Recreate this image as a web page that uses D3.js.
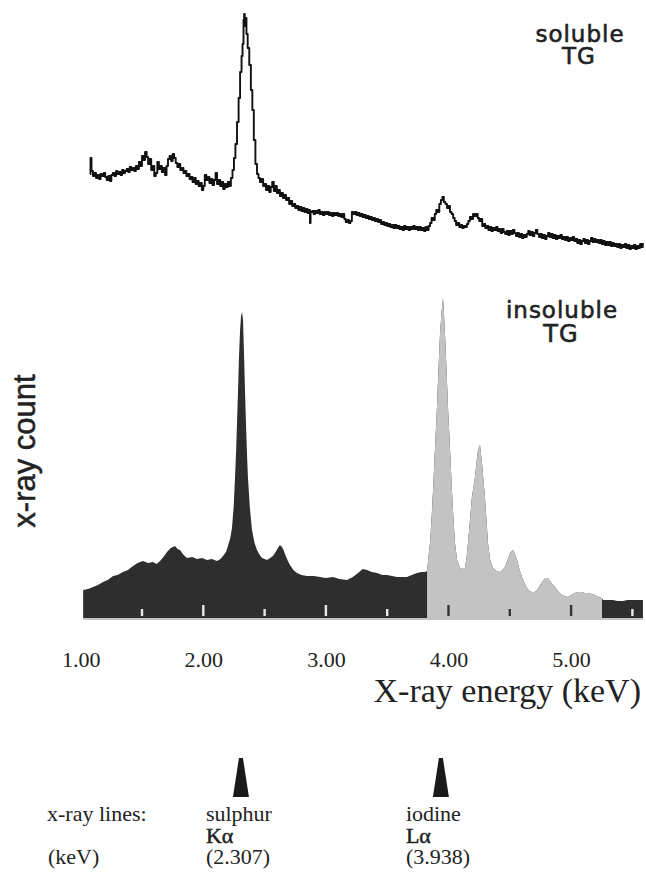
<!DOCTYPE html>
<html>
<head>
<meta charset="utf-8">
<script src="https://cdn.jsdelivr.net/npm/d3@7/dist/d3.min.js"></script>
<style>
  html, body { margin: 0; padding: 0; background: #fff; }
  svg { display: block; }
</style>
</head>
<body>
<svg id="chart" width="646" height="880"></svg>
<script>
// ---------- DATA ----------
// soluble TG spectrum: [energy keV, counts (arbitrary)]
const solubleSpectrum = [
[1.075,96],[1.080,112],[1.088,99],[1.100,94],[1.112,97],[1.125,92],[1.138,95],[1.150,91],[1.162,96],[1.175,94],
[1.188,97],[1.200,93],[1.212,90],[1.225,94],[1.238,89],[1.250,95],[1.262,97],[1.275,94],[1.288,99],[1.300,96],
[1.312,98],[1.325,95],[1.338,100],[1.350,97],[1.362,99],[1.375,101],[1.388,98],[1.400,103],[1.412,100],[1.425,102],
[1.438,99],[1.450,104],[1.462,101],[1.475,108],[1.488,104],[1.500,114],[1.512,110],[1.525,118],[1.538,113],[1.550,106],
[1.562,111],[1.575,100],[1.588,104],[1.600,94],[1.612,97],[1.625,108],[1.638,101],[1.650,104],[1.662,98],[1.675,102],
[1.688,95],[1.700,104],[1.712,111],[1.725,114],[1.738,109],[1.750,116],[1.762,112],[1.775,107],[1.788,103],[1.800,106],
[1.812,100],[1.825,102],[1.838,97],[1.850,99],[1.862,94],[1.875,96],[1.888,91],[1.900,93],[1.912,88],[1.925,92],
[1.938,86],[1.950,89],[1.962,84],[1.975,87],[1.988,80],[2.000,84],[2.012,95],[2.025,90],[2.038,93],[2.050,87],
[2.062,91],[2.075,85],[2.088,90],[2.100,97],[2.112,86],[2.125,90],[2.138,84],[2.150,88],[2.162,81],[2.175,86],
[2.188,83],[2.200,88],[2.212,84],[2.225,92],[2.238,100],[2.250,112],[2.262,126],[2.275,148],[2.288,172],[2.300,198],
[2.312,214],[2.320,226],[2.328,250],[2.333,256],[2.338,244],[2.345,252],[2.352,236],[2.362,222],[2.375,205],[2.388,180],
[2.400,160],[2.412,130],[2.425,106],[2.438,96],[2.450,92],[2.462,88],[2.475,91],[2.488,84],[2.500,86],[2.512,80],
[2.525,84],[2.538,78],[2.550,83],[2.562,88],[2.575,79],[2.588,84],[2.600,77],[2.612,80],[2.625,74],[2.638,77],
[2.650,72],[2.662,75],[2.675,70],[2.688,72],[2.700,66],[2.712,69],[2.725,64],[2.738,66],[2.750,62],[2.762,64],
[2.775,60],[2.788,63],[2.800,59],[2.812,62],[2.825,58],[2.838,61],[2.850,57],[2.862,60],[2.870,47],[2.875,58],
[2.888,59],[2.900,56],[2.912,59],[2.925,57],[2.938,60],[2.950,56],[2.962,58],[2.975,55],[2.988,58],[3.000,56],
[3.012,58],[3.025,55],[3.038,57],[3.050,54],[3.062,57],[3.075,55],[3.088,57],[3.100,54],[3.112,56],[3.125,53],
[3.138,56],[3.150,51],[3.162,48],[3.175,50],[3.188,47],[3.200,49],[3.212,58],[3.225,56],[3.238,58],[3.250,55],
[3.262,57],[3.275,54],[3.288,56],[3.300,53],[3.312,55],[3.325,52],[3.338,54],[3.350,51],[3.362,53],[3.375,50],
[3.388,52],[3.400,49],[3.412,51],[3.425,48],[3.438,50],[3.450,46],[3.462,48],[3.475,45],[3.488,47],[3.500,44],
[3.512,46],[3.525,43],[3.538,45],[3.550,42],[3.562,45],[3.575,42],[3.588,44],[3.600,41],[3.612,43],[3.625,40],
[3.638,44],[3.650,41],[3.662,43],[3.675,40],[3.688,43],[3.700,41],[3.712,44],[3.725,41],[3.738,43],[3.750,40],
[3.762,43],[3.775,40],[3.788,42],[3.800,39],[3.812,43],[3.825,40],[3.838,44],[3.850,47],[3.862,52],[3.875,50],
[3.888,56],[3.900,60],[3.912,58],[3.925,66],[3.938,70],[3.950,73],[3.962,68],[3.975,66],[3.988,62],[4.000,64],
[4.012,58],[4.025,56],[4.038,52],[4.050,49],[4.062,45],[4.075,47],[4.088,43],[4.100,45],[4.112,42],[4.125,44],
[4.138,43],[4.150,46],[4.162,49],[4.175,53],[4.188,51],[4.200,56],[4.212,54],[4.225,56],[4.238,52],[4.250,49],
[4.262,51],[4.275,44],[4.288,46],[4.300,42],[4.312,44],[4.325,40],[4.338,43],[4.350,39],[4.362,42],[4.375,40],
[4.388,43],[4.400,39],[4.412,41],[4.425,37],[4.438,41],[4.450,38],[4.462,36],[4.475,39],[4.488,35],[4.500,39],
[4.512,36],[4.525,40],[4.538,37],[4.550,34],[4.562,37],[4.575,33],[4.588,36],[4.600,32],[4.612,35],[4.625,33],
[4.638,36],[4.650,39],[4.662,35],[4.675,38],[4.688,34],[4.700,37],[4.712,40],[4.725,36],[4.738,33],[4.750,36],
[4.762,32],[4.775,35],[4.788,31],[4.800,34],[4.812,37],[4.825,33],[4.838,36],[4.850,32],[4.862,35],[4.875,31],
[4.888,34],[4.900,32],[4.912,35],[4.925,31],[4.938,33],[4.950,30],[4.962,33],[4.975,29],[4.988,32],[5.000,30],
[5.012,33],[5.025,29],[5.038,31],[5.050,27],[5.062,30],[5.075,26],[5.088,29],[5.100,31],[5.112,27],[5.125,30],
[5.138,26],[5.150,29],[5.162,32],[5.175,28],[5.188,31],[5.200,28],[5.212,30],[5.225,27],[5.238,30],[5.250,26],
[5.262,29],[5.275,25],[5.288,28],[5.300,25],[5.312,28],[5.325,24],[5.338,27],[5.350,24],[5.362,26],[5.375,23],
[5.388,26],[5.400,22],[5.412,25],[5.425,23],[5.438,26],[5.450,22],[5.462,25],[5.475,21],[5.488,24],[5.500,22],
[5.512,25],[5.525,21],[5.538,24],[5.550,22],[5.562,26],[5.575,23],[5.585,27]
];

// insoluble TG spectrum: [energy keV, counts (arbitrary)]
const insolubleSpectrum = [
[1.020,28],[1.060,29],[1.101,31],[1.140,33],[1.182,36],[1.220,38],[1.264,42],[1.300,43],[1.345,46],[1.385,48],
[1.427,52],[1.465,55],[1.508,57],[1.550,55],[1.590,56],[1.620,54],[1.647,57],[1.675,61],[1.704,66],[1.735,70],
[1.769,72],[1.790,69],[1.810,68],[1.840,63],[1.867,60],[1.910,61],[1.949,59],[1.990,60],[2.030,58],[2.070,59],
[2.112,57],[2.140,59],[2.161,62],[2.185,66],[2.201,72],[2.220,80],[2.234,90],[2.248,112],[2.259,141],[2.268,168],
[2.275,195],[2.284,230],[2.291,261],[2.300,288],[2.308,302],[2.316,306],[2.324,298],[2.332,265],[2.340,228],[2.348,195],
[2.356,165],[2.364,141],[2.380,110],[2.397,88],[2.418,75],[2.438,68],[2.460,63],[2.479,60],[2.500,59],[2.519,58],
[2.545,60],[2.568,62],[2.590,66],[2.609,70],[2.625,73],[2.642,71],[2.655,68],[2.666,64],[2.690,57],[2.707,53],
[2.735,48],[2.764,45],[2.800,43],[2.846,42],[2.900,42],[2.952,41],[3.000,40],[3.058,41],[3.110,39],[3.172,38],
[3.220,41],[3.262,45],[3.300,49],[3.335,48],[3.375,46],[3.417,45],[3.460,43],[3.498,43],[3.540,42],[3.580,41],
[3.620,41],[3.661,41],[3.700,43],[3.743,45],[3.780,46],[3.808,46],[3.825,47],[3.837,62],[3.849,75],[3.862,100],
[3.874,128],[3.890,170],[3.906,211],[3.918,248],[3.931,285],[3.943,305],[3.955,320],[3.963,305],[3.971,285],[3.984,248],
[3.996,211],[4.012,170],[4.028,128],[4.040,100],[4.053,75],[4.070,58],[4.094,50],[4.115,49],[4.134,50],[4.147,60],
[4.159,75],[4.175,98],[4.191,121],[4.216,141],[4.240,168],[4.257,173],[4.273,155],[4.285,138],[4.297,121],[4.310,98],
[4.322,75],[4.340,58],[4.363,50],[4.390,47],[4.420,46],[4.440,48],[4.461,51],[4.482,58],[4.502,65],[4.526,68],
[4.542,64],[4.559,58],[4.580,48],[4.600,41],[4.620,35],[4.640,30],[4.660,27],[4.681,26],[4.700,26],[4.722,28],
[4.742,32],[4.763,36],[4.790,40],[4.811,40],[4.840,35],[4.868,31],[4.900,26],[4.926,23],[4.950,22],[4.974,21],
[5.000,23],[5.031,25],[5.060,26],[5.088,26],[5.110,25],[5.137,25],[5.165,24],[5.194,23],[5.225,21],[5.252,20],
[5.260,18],[5.300,18],[5.341,18],[5.380,17],[5.423,17],[5.460,18],[5.504,18],[5.545,18],[5.586,18]
];

// energy window shown in light grey on the insoluble spectrum
const greyWindow = [3.825, 5.252];
// axis tick values / labels
const axisTickValues = [1, 2, 3, 4, 5];
// small marker ticks printed at the bottom of the spectrum
const baselineMarks = [1.5, 2.0, 2.5, 3.0, 3.5, 4.0, 4.5, 5.0, 5.5];
// reference x-ray lines
const lineElements = ["sulphur", "iodine"];
const lineNames = ["Kα", "Lα"];
const lineEnergies = [2.307, 3.938];

// ---------- SCALES ----------
const svg = d3.select("#chart");
const x = d3.scaleLinear().domain([1, 5.5]).range([80.7, 632.4]);
const yTop = d3.scaleLinear().domain([0, 255]).range([270, 15]);
const yBot = d3.scaleLinear().domain([0, 320]).range([618, 298]);

const DARK = "#2e2e2e";
const LIGHT = "#c3c3c3";
const sans = "'DejaVu Sans', sans-serif";
const serif = "'Liberation Serif', 'Times New Roman', serif";

function label(xp, yp, txt, size) {
  return svg.append("text").attr("x", xp).attr("y", yp)
    .attr("text-anchor", "middle")
    .style("font-family", sans).style("font-size", size + "px")
    .style("letter-spacing", "1px")
    .attr("fill", "#222").attr("stroke", "#222").attr("stroke-width", 0.6)
    .text(txt);
}

// ---------- UPPER: soluble TG ----------
const line = d3.line().x(d => x(d[0])).y(d => yTop(d[1])).curve(d3.curveStepAfter);
svg.append("path")
  .datum(solubleSpectrum)
  .attr("d", line)
  .attr("fill", "none")
  .attr("stroke", "#111")
  .attr("stroke-width", 1.9)
  .attr("stroke-linejoin", "round");

label(580, 42, "soluble", 23);
label(579, 64, "TG", 23);

// ---------- LOWER: insoluble TG ----------
const area = d3.area().x(d => x(d[0])).y0(yBot(0)).y1(d => yBot(d[1]));
svg.append("path").datum(insolubleSpectrum).attr("d", area).attr("fill", DARK);
svg.append("path")
  .datum(insolubleSpectrum.filter(d => d[0] >= greyWindow[0] && d[0] <= greyWindow[1]))
  .attr("d", area).attr("fill", LIGHT);

// baseline
svg.append("line")
  .attr("x1", x(1.02)).attr("x2", x(5.586))
  .attr("y1", yBot(0) + 1).attr("y2", yBot(0) + 1)
  .attr("stroke", "#888").attr("stroke-width", 1.2);

// marker ticks in the spectrum foot
svg.append("g").selectAll("rect").data(baselineMarks).join("rect")
  .attr("x", d => x(d) - 1.2)
  .attr("width", 2.4)
  .attr("y", d => Number.isInteger(d) ? yBot(0) - 13 : yBot(0) - 9)
  .attr("height", d => Number.isInteger(d) ? 11 : 7)
  .attr("fill", d => (d >= greyWindow[0] && d <= greyWindow[1]) ? "#333" : "#e8e8e8");

label(562, 318, "insoluble", 23);
label(561, 342, "TG", 24);

// ---------- AXIS ----------
const axis = d3.axisBottom(x)
  .tickValues(axisTickValues)
  .tickFormat(d3.format(".2f"))
  .tickSize(0).tickPadding(6);
const gAxis = svg.append("g").attr("transform", "translate(0,645)").call(axis);
gAxis.select(".domain").remove();
gAxis.selectAll("text")
  .style("font-family", serif)
  .style("font-size", "22px").attr("fill", "#222");

svg.append("text").attr("x", 641).attr("y", 702)
  .attr("text-anchor", "end")
  .style("font-family", serif)
  .style("font-size", "34px").attr("fill", "#222")
  .text("X-ray energy (keV)");

// y label
svg.append("text")
  .attr("transform", "translate(35,451) rotate(-90)")
  .attr("text-anchor", "middle")
  .style("font-family", "'Liberation Sans', Arial, sans-serif")
  .style("font-size", "31px").attr("fill", "#222")
  .attr("stroke", "#222").attr("stroke-width", 0.5)
  .text("x-ray count");

// ---------- X-RAY LINE MARKERS ----------
const markers = svg.append("g");
lineEnergies.forEach((e, i) => {
  const cx = x(e);
  markers.append("path")
    .attr("d", `M${cx - 2},758 L${cx - 8},797 L${cx + 8},797 L${cx + 2},758 Z`)
    .attr("fill", "#1a1a1a");
  markers.append("text").attr("x", cx - 35).attr("y", 821)
    .style("font-family", serif).style("font-size", "22px").attr("fill", "#222")
    .text(lineElements[i]);
  markers.append("text").attr("x", cx - 35).attr("y", 843)
    .style("font-family", serif).style("font-size", "22px")
    .attr("fill", "#222").attr("stroke", "#222").attr("stroke-width", 0.5)
    .text(lineNames[i]);
  markers.append("text").attr("x", cx - 35).attr("y", 864)
    .style("font-family", serif).style("font-size", "22px").attr("fill", "#222")
    .text("(" + d3.format(".3f")(e) + ")");
});
svg.append("text").attr("x", 47).attr("y", 821)
  .style("font-family", serif).style("font-size", "22px").attr("fill", "#222")
  .text("x-ray lines:");
svg.append("text").attr("x", 48).attr("y", 864)
  .style("font-family", serif).style("font-size", "22px").attr("fill", "#222")
  .text("(keV)");
</script>
</body>
</html>
